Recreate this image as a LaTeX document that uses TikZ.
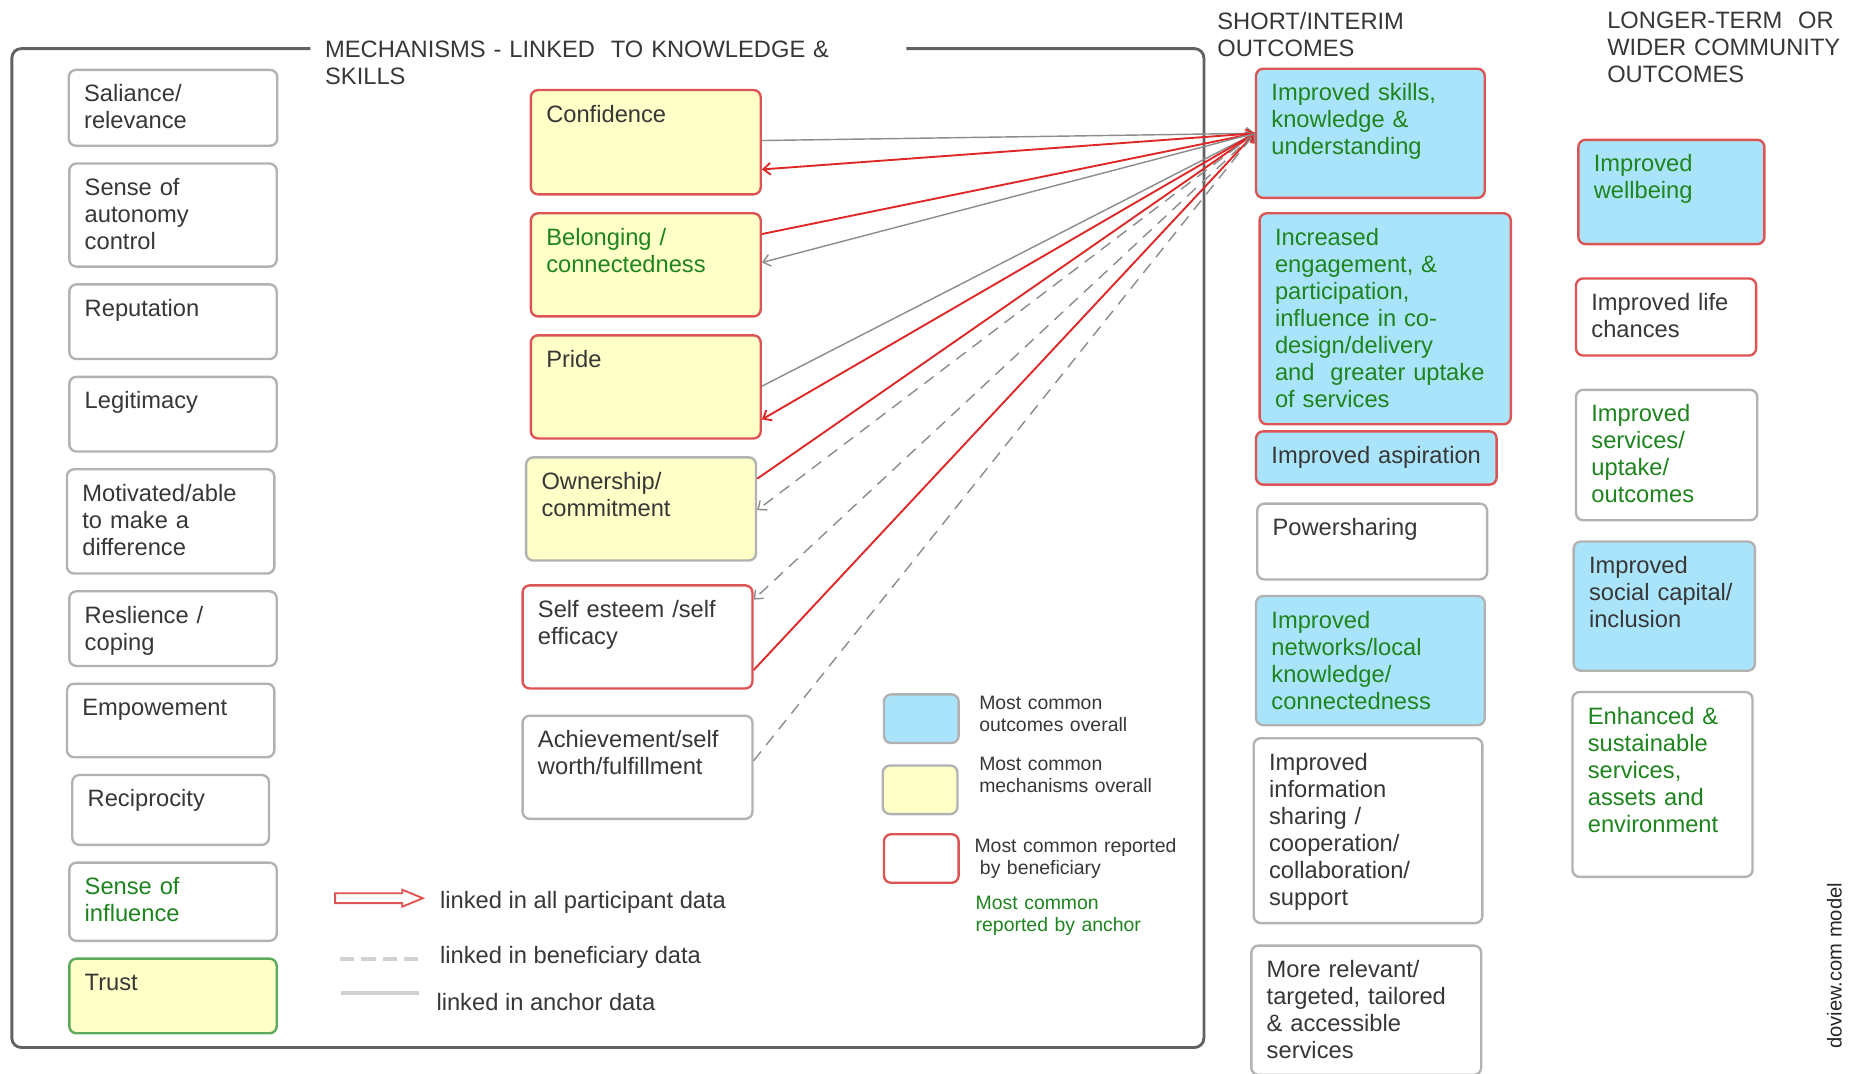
\documentclass[tikz,border=0pt]{standalone}
\usepackage{fontspec}
\setmainfont{Liberation Sans}
\usetikzlibrary{positioning,arrows.meta,shapes.arrows}

\definecolor{redbd}{RGB}{222,84,84}
\definecolor{redline}{RGB}{222,40,40}
\definecolor{greybd}{RGB}{178,178,178}
\definecolor{greenbd}{RGB}{92,170,92}
\definecolor{yelfill}{RGB}{255,255,200}
\definecolor{bluefill}{RGB}{170,228,250}
\definecolor{txtgreen}{RGB}{30,132,30}
\definecolor{txtdark}{RGB}{55,55,55}

\begin{document}
\begin{tikzpicture}[
  x=0.5pt, y=-0.5pt,
  font=\fontsize{10}{11.4}\selectfont,
  box/.style = {
    rectangle, rounded corners=3pt, line width=1pt, anchor=north west,
    align=left, inner xsep=6.5pt, inner ysep=6pt, text height=7.5pt,
    text=txtdark,
  },
  plain/.style = {box, draw=greybd, fill=white},
  redwhite/.style = {box, draw=redbd, fill=white},
  redyel/.style = {box, draw=redbd, fill=yelfill},
  greyyel/.style = {box, draw=greybd, fill=yelfill},
  redblue/.style = {box, draw=redbd, fill=bluefill},
  greyblue/.style = {box, draw=greybd, fill=bluefill},
  grn/.style = {text=txtgreen},
  heading/.style = {anchor=north west, inner sep=0pt, align=left, text height=7.5pt, text=txtdark},
  keybox/.style = {
    rectangle, rounded corners=3pt, line width=1pt, anchor=north west,
    inner sep=0pt, minimum width=31.5pt, minimum height=20.5pt,
  },
  keytext/.style = {
    anchor=north west, inner sep=0pt, align=left, text width=90pt,
    font=\fontsize{8.2}{9.3}\selectfont, text height=5.9pt, text=txtdark,
  },
  keylabel/.style = {anchor=base west, inner sep=0pt, text=txtdark},
  redlink/.style = {draw=redline, line width=0.8pt, -{Straight Barb[length=3pt,width=5pt]}},
  anchorlink/.style = {draw=black!45, line width=0.6pt, -{Straight Barb[length=3pt,width=5pt]}},
  benlink/.style = {draw=black!45, line width=0.6pt, dash pattern=on 5pt off 3.5pt, -{Straight Barb[length=3pt,width=5pt]}},
  node distance=6.5pt,
]
  \useasboundingbox (0,0) rectangle (1568,906);

  % frame round the mechanisms
  \draw[draw=black!62, line width=1.2pt, rounded corners=4pt]
    (262,41) -- (10,41) -- (10,884) -- (1016,884) -- (1016,41) -- (765,41);

  % headings
  \node[heading, text width=240pt] (hmech) at (274,33) {MECHANISMS - LINKED\ \ TO KNOWLEDGE \&\\SKILLS};
  \node[heading, text width=110pt] (hshort) at (1027,9.5) {SHORT/INTERIM\\OUTCOMES};
  \node[heading, text width=110pt] (hlong) at (1356,8.5) {LONGER-TERM\ \ OR\\WIDER COMMUNITY\\OUTCOMES};

  % mechanisms, left column
  \node[plain, text width=75pt, text depth=12.5pt]                        (sal)   at (57,58) {Saliance/\\relevance};
  \node[plain, below=of sal, text width=74.5pt, text depth=24pt]          (aut)   {Sense of\\autonomy\\control};
  \node[plain, below=of aut, text width=74.5pt, text depth=12pt]          (rep)   {Reputation};
  \node[plain, below=of rep, text width=74.5pt, text depth=12pt]          (legit) {Legitimacy};
  \node[plain, below=of legit, xshift=-1pt, text width=74.5pt, text depth=24.5pt] (motiv) {Motivated/able\\to make a\\difference};
  \node[plain, below=of motiv, xshift=1pt, text width=74.5pt, text depth=12pt]    (resil) {Reslience /\\coping};
  \node[plain, below=of resil, xshift=-1pt, text width=74.5pt, text depth=11.5pt] (empow) {Empowement};
  \node[plain, below=of empow, text width=70pt, text depth=10pt]          (recip) {Reciprocity};
  \node[plain, grn, below=of recip, xshift=1pt, text width=74.5pt, text depth=13.5pt] (influ) {Sense of\\influence};
  \node[box, draw=greenbd, fill=yelfill, below=of influ, text width=74.5pt, text depth=12pt] (trust) {Trust};

  % mechanisms, middle column
  \node[redyel, text width=84pt, text depth=24.5pt]                       (conf)   at (447,75) {Confidence};
  \node[redyel, grn, below=7pt of conf, text width=84pt, text depth=24pt] (belong) {Belonging /\\connectedness};
  \node[redyel, below=7pt of belong, text width=84pt, text depth=24pt]    (pride)  {Pride};
  \node[greyyel, below=7pt of pride, xshift=-2pt, text width=84pt, text depth=24pt]      (owner)  {Ownership/\\commitment};
  \node[redwhite, below=9.5pt of owner, xshift=-1.5pt, text width=84pt, text depth=24pt] (esteem) {Self esteem /self\\efficacy};
  \node[plain, below=10.5pt of esteem, text width=84pt, text depth=24pt]  (achiev) {Achievement/self\\worth/fulfillment};

  % short/interim outcomes
  \node[redblue, grn, text width=83.5pt, text depth=35pt]   (skills) at (1059,57)  {Improved skills,\\knowledge \&\\understanding};
  \node[redblue, grn, text width=93pt, text depth=69.5pt]   (engage) at (1062,179) {Increased\\engagement, \&\\participation,\\influence in co-\\design/delivery\\and\ \ greater uptake\\of services};
  \node[redblue, text width=88.5pt, text depth=3pt]         (aspire) at (1059,363) {Improved aspiration};
  \node[plain, text width=84pt, text depth=12.5pt]          (power)  at (1060,424) {Powersharing};
  \node[greyblue, grn, text width=83.5pt, text depth=35pt]  (netwk)  at (1059,502) {Improved\\networks/local\\knowledge/\\connectedness};
  \node[plain, text width=83.5pt, text depth=58.5pt]        (share)  at (1057,622) {Improved\\information\\sharing /\\cooperation/\\collaboration/\\support};
  \node[plain, text width=84pt, text depth=35pt]            (relev)  at (1055,797) {More relevant/\\targeted, tailored\\\& accessible\\services};

  % longer-term outcomes
  \node[redblue, grn, text width=65.5pt, text depth=24.5pt] (wellb)  at (1331,117) {Improved\\wellbeing};
  \node[redwhite, text width=63pt, text depth=13pt]         (lifech) at (1329,234) {Improved life\\chances};
  \node[plain, grn, text width=63.5pt, text depth=35.5pt]   (servc)  at (1329,328) {Improved\\services/\\uptake/\\outcomes};
  \node[greyblue, text width=63.5pt, text depth=35pt]       (social) at (1327,456) {Improved\\social capital/\\inclusion};
  \node[plain, grn, text width=63pt, text depth=58.5pt]     (enhan)  at (1326,583) {Enhanced \&\\sustainable\\services,\\assets and\\environment};

  % links into the skills outcome
  \draw[anchorlink] ([yshift=0.7pt]conf.east) -- (skills.west);
  \draw[redlink] (skills.west) -- ([yshift=-11.5pt]conf.east);
  \draw[redlink] ([yshift=13pt]belong.east) -- (skills.west);
  \draw[anchorlink] (skills.west) -- ([yshift=1pt]belong.east);
  \draw[anchorlink] ([yshift=0.3pt]pride.east) -- (skills.west);
  \draw[redlink] (skills.west) -- ([yshift=-13.75pt]pride.east);
  \draw[redlink] ([yshift=12.75pt]owner.east) -- (skills.west);
  \draw[benlink] (skills.west) -- ([yshift=-0.5pt]owner.east);
  \draw[benlink] (skills.west) -- ([yshift=15.75pt]esteem.east);
  \draw[redlink] ([yshift=-14pt]esteem.east) -- (skills.west);
  \draw[benlink] ([yshift=2.75pt]achiev.east) -- (skills.west);

  % key
  \node[keybox, draw=greybd, fill=bluefill] (kblue) at (745,585) {};
  \node[keybox, draw=greybd, fill=yelfill]  (kyel)  at (744,645) {};
  \node[keybox, draw=redbd, fill=white]     (kred)  at (745,703) {};
  \node[keytext] (tblue) at (826,586.5) {Most common\\outcomes overall};
  \node[keytext] (tyel)  at (826,638)   {Most common\\mechanisms overall};
  \node[keytext] (tred)  at (822,707)   {Most common reported\\\hspace*{2.3pt}by beneficiary};
  \node[keytext, text=txtgreen] (tgrn) at (823,755) {Most common\\reported by anchor};

  \node[single arrow, draw=redbd, line width=0.8pt, fill=white, minimum height=37pt,
        inner sep=1.7pt, single arrow head extend=1.5pt, single arrow tip angle=45,
        anchor=west] (karrow) at (282,758) {};
  \coordinate (kben1) at (287,809);
  \coordinate (kben2) at (355,809);
  \coordinate (kanc1) at (288,838);
  \coordinate (kanc2) at (354,838);
  \draw[draw=black!18, line width=1.6pt, dash pattern=on 6pt off 3pt] (kben1) -- (kben2);
  \draw[draw=black!18, line width=1.6pt] (kanc1) -- (kanc2);
  \node[keylabel] (lall) at (371,767)   {linked in all participant data};
  \node[keylabel] (lben) at (371,813.5) {linked in beneficiary data};
  \node[keylabel] (lanc) at (368,853)   {linked in anchor data};

  \node[rotate=90, inner sep=0pt, font=\fontsize{8.5}{10}\selectfont, text=black!85] (doview) at (1548,815) {doview.com model};
\end{tikzpicture}
\end{document}
